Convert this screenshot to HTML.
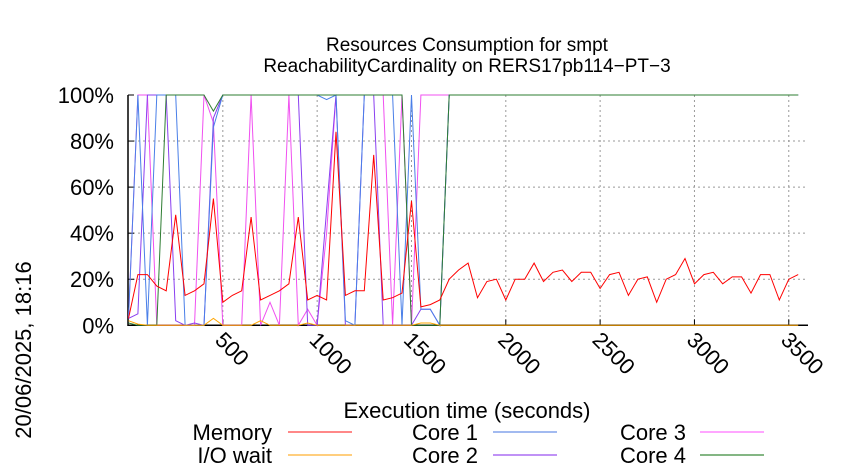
<!DOCTYPE html>
<html><head><meta charset="utf-8"><style>
html,body{margin:0;padding:0;background:#fff;}
svg{display:block;font-family:"Liberation Sans",sans-serif;}
</style></head><body>
<svg id="chart" width="850" height="475" viewBox="0 0 850 475">
<text x="467" y="51" font-size="19" text-anchor="middle">Resources Consumption for smpt</text>
<text x="467" y="72" font-size="19" text-anchor="middle">ReachabilityCardinality on RERS17pb114−PT−3</text>
<text transform="translate(31,350) rotate(-90)" font-size="22" text-anchor="middle">20/06/2025, 18:16</text>
<text x="467" y="418" font-size="22" text-anchor="middle">Execution time (seconds)</text>
<g id="grid"></g>
<g id="axes"></g>
<g id="series"></g>
<g id="legend"></g>
</svg>
<script>
const times = [0,50,100,150,200,250,300,350,400,450,500,550,600,650,700,750,800,850,900,950,1000,1050,1100,1150,1200,1250,1300,1350,1400,1450,1500,1550,1600,1650,1700,1750,1800,1850,1900,1950,2000,2050,2100,2150,2200,2250,2300,2350,2400,2450,2500,2550,2600,2650,2700,2750,2800,2850,2900,2950,3000,3050,3100,3150,3200,3250,3300,3350,3400,3450,3500,3550];
const memory = [3,22,22,17,15,48,13,15,18,55,10,13,15,47,11,13,15,18,47,11,13,11,84,13,15,15,74,11,12,14,54,8,9,11,20,24,27,12,19,20,11,20,20,27,19,23,24,19,23,23,16,22,23,13,20,21,10,20,22,29,18,22,23,18,21,21,14,22,22,11,20,22];
const iowait = [2,0.5,0,0,0,0,0,0,0,3,0,0,0,0,2,0,0,0,0,1,0,0,0,0,0,0,0,0,0,0,0,1,1,0,0,0,0,0,0,0,0,0,0,0,0,0,0,0,0,0,0,0,0,0,0,0,0,0,0,0,0,0,0,0,0,0,0,0,0,0,0,0];
const core1 = [3,100,0,100,100,100,0,0,0,86,100,100,100,100,100,100,100,100,100,100,100,98,100,2,0,100,100,100,100,0,100,7,7,0,100,100,100,100,100,100,100,100,100,100,100,100,100,100,100,100,100,100,100,100,100,100,100,100,100,100,100,100,100,100,100,100,100,100,100,100,100,100];
const core2 = [3,5,100,100,100,2,0,1,0,90,100,100,100,100,100,100,100,100,100,0,0,50,100,0,0,100,100,0,0,0,0,7,7,0,100,100,100,100,100,100,100,100,100,100,100,100,100,100,100,100,100,100,100,100,100,100,100,100,100,100,100,100,100,100,100,100,100,100,100,100,100,100];
const core3 = [3,100,100,0,0,0,0,0,100,88,0,0,0,100,0,10,0,100,0,7,0,40,100,100,100,100,100,100,0,100,0,100,100,100,100,100,100,100,100,100,100,100,100,100,100,100,100,100,100,100,100,100,100,100,100,100,100,100,100,100,100,100,100,100,100,100,100,100,100,100,100,100];
const core4 = [1,0,0,0,100,100,100,100,100,93,100,100,100,100,100,100,100,100,100,100,100,100,100,100,100,100,100,100,100,100,0,0,0,0,100,100,100,100,100,100,100,100,100,100,100,100,100,100,100,100,100,100,100,100,100,100,100,100,100,100,100,100,100,100,100,100,100,100,100,100,100,100];
const xTicks = [500,1000,1500,2000,2500,3000,3500];
const yTicks = [0,20,40,60,80,100];
const yTickLabels = ["0%","20%","40%","60%","80%","100%"];
const seriesNames = ["Memory","I/O wait","Core 1","Core 2","Core 3","Core 4"];

const X0=128.5, XL=128, XR=808, Y0=325.3, Y100=95;
const sx = t => X0 + t*0.18865;
const sy = v => Y0 - v*(Y0-Y100)/100;
const NS="http://www.w3.org/2000/svg";
function mk(tag, parent){const e=document.createElementNS(NS,tag);parent.appendChild(e);return e;}
const grid=document.getElementById('grid'), axes=document.getElementById('axes'), ser=document.getElementById('series'), leg=document.getElementById('legend');

yTicks.forEach((v,i)=>{
  if(v>0&&v<100){
    const l=mk('line',grid);
    
    
    l.setAttribute('x1',XL);l.setAttribute('x2',XR);l.setAttribute('y1',sy(v));l.setAttribute('y2',sy(v));
    l.setAttribute('stroke','#999');l.setAttribute('stroke-dasharray','2,3');l.setAttribute('stroke-width','1');
  }
  const tk=mk('line',axes);
  
  
  tk.setAttribute('x1',XL);tk.setAttribute('x2',XL+6);tk.setAttribute('y1',sy(v));tk.setAttribute('y2',sy(v));tk.setAttribute('stroke','#000');
  const t=mk('text',axes);
  
  
  t.setAttribute('x',114);t.setAttribute('y',sy(v)+8);t.setAttribute('font-size','22');t.setAttribute('text-anchor','end');
  t.textContent=yTickLabels[i];
});
xTicks.forEach(v=>{
  const x=sx(v);
  const l=mk('line',grid);
  
  
  l.setAttribute('x1',x);l.setAttribute('x2',x);l.setAttribute('y1',Y100);l.setAttribute('y2',Y0);
  l.setAttribute('stroke','#999');l.setAttribute('stroke-dasharray','2,3');
  const tk=mk('line',axes);
  
  
  tk.setAttribute('x1',x);tk.setAttribute('x2',x);tk.setAttribute('y1',Y0);tk.setAttribute('y2',Y0-6);tk.setAttribute('stroke','#000');
  const t=mk('text',axes);
  
  
  t.setAttribute('font-size','22');
  t.setAttribute('transform','translate('+(x-9)+','+(Y0+16)+') rotate(45)');
  t.textContent=String(v);
});
const ax=mk('path',axes);


ax.setAttribute('d','M'+XL+','+Y100+' L'+XL+','+Y0+' L'+XR+','+Y0);
ax.setAttribute('stroke','#000');ax.setAttribute('stroke-width','1.5');ax.setAttribute('fill','none');

const series=[
 {name:'core3-line',data:core3,color:'#f050f0'},
 {name:'core2-line',data:core2,color:'#8a3ff0'},
 {name:'core1-line',data:core1,color:'#4a7fe8'},
 {name:'core4-line',data:core4,color:'#2e7d32'},
 {name:'iowait-line',data:iowait,color:'#ffa500'},
 {name:'memory-line',data:memory,color:'#ff0000'}
];
series.forEach(s=>{
  const p=mk('polyline',ser);
  
  
  p.setAttribute('points',s.data.map((v,i)=>sx(times[i]).toFixed(1)+','+sy(v).toFixed(1)).join(' '));
  p.setAttribute('fill','none');p.setAttribute('stroke',s.color);p.setAttribute('stroke-width','1');
});

const legCols=['#ff4040','#ffb030','#6a90e8','#9a50f0','#ff70ff','#3a8a3a'];
const legPos=[[272,288,432],[272,288,455],[478,493,432],[478,493,455],[686,700,432],[686,700,455]];
seriesNames.forEach((n,i)=>{
  const [tx,lx,y]=legPos[i];
  const t=mk('text',leg);
  
  
  t.setAttribute('x',tx);t.setAttribute('y',y+8);t.setAttribute('font-size','22');t.setAttribute('text-anchor','end');
  t.textContent=n;
  const l=mk('line',leg);
  
  
  l.setAttribute('x1',lx);l.setAttribute('x2',lx+64);l.setAttribute('y1',y);l.setAttribute('y2',y);
  l.setAttribute('stroke',legCols[i]);l.setAttribute('stroke-width','1.2');
});
</script>
</body></html>
